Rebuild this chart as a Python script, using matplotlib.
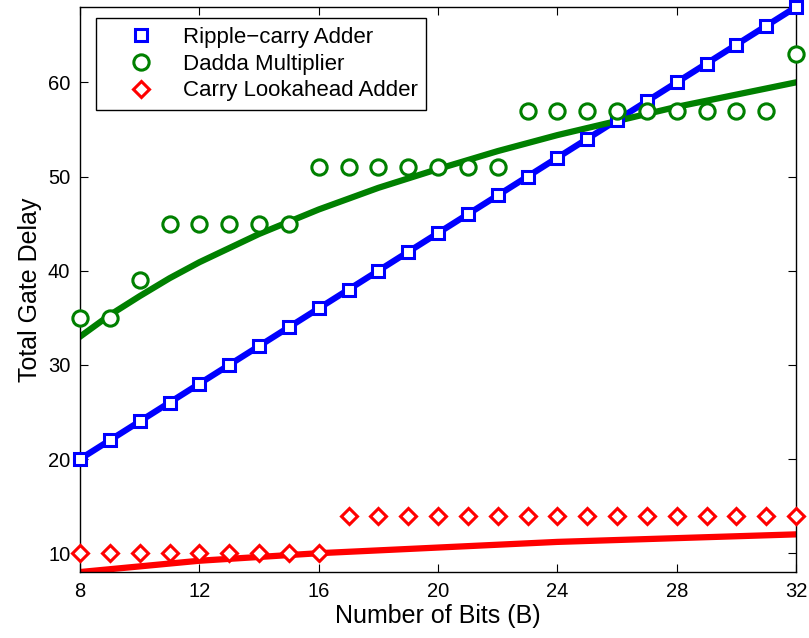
import matplotlib.pyplot as plt

plt.rcParams['font.family'] = ['Liberation Sans', 'DejaVu Sans']

# Data
bits = list(range(8, 33))
ripple = [20, 22, 24, 26, 28, 30, 32, 34, 36, 38, 40, 42, 44, 46, 48, 50,
          52, 54, 56, 58, 60, 62, 64, 66, 68]
dadda = [35, 35, 39, 45, 45, 45, 45, 45, 51, 51, 51, 51, 51, 51, 51,
         57, 57, 57, 57, 57, 57, 57, 57, 57, 63]
cla = [10] * 9 + [14] * 16

# Fitted trend curves
fit_bits = [8, 9, 10, 11, 12, 14, 16, 18, 20, 22, 24, 26, 28, 30, 32]
ripple_fit = [20, 22, 24, 26, 28, 32, 36, 40, 44, 48, 52, 56, 60, 64, 68]
dadda_fit = [33.0, 35.3, 37.3, 39.2, 40.9, 43.9, 46.5, 48.8, 50.8, 52.7,
             54.4, 55.9, 57.4, 58.7, 60.0]
cla_fit = [8.0, 8.3, 8.6, 8.9, 9.2, 9.6, 10.0, 10.3, 10.6, 10.9, 11.2,
           11.4, 11.6, 11.8, 12.0]

fig = plt.figure(figsize=(8.09, 6.38), dpi=100)
ax = fig.add_axes([0.099, 0.1034, 0.885, 0.8856])

ax.plot(fit_bits, ripple_fit, color="#0000ff", lw=4.5, zorder=2)
ax.plot(fit_bits, dadda_fit, color="#008000", lw=4.5, zorder=2)
ax.plot(fit_bits, cla_fit, color="#ff0000", lw=4.5, zorder=2)

common = dict(linestyle="none", markeredgewidth=2.2, markerfacecolor="white", clip_on=False, zorder=3)
ax.plot(bits, ripple, marker="s", markersize=9, markeredgecolor="#0000ff",
        label="Ripple\u2212carry Adder", **common)
ax.plot(bits, dadda, marker="o", markersize=11, markeredgecolor="#008000",
        label="Dadda Multiplier", **common)
ax.plot(bits, cla, marker="D", markersize=8, markeredgecolor="#ff0000",
        label="Carry Lookahead Adder", **common)

ax.set_xlim(8, 32)
ax.set_ylim(8, 68)
ax.set_xticks([8, 12, 16, 20, 24, 28, 32])
ax.set_yticks([10, 20, 30, 40, 50, 60])
ax.tick_params(direction="in", top=True, right=True, length=6, labelsize=14.5, pad=7)
for s in ax.spines.values():
    s.set_linewidth(1.0)

ax.set_xlabel("Number of Bits (B)", fontsize=18, labelpad=2)
ax.set_ylabel("Total Gate Delay", fontsize=18, labelpad=4)

leg = ax.legend(loc="upper left", bbox_to_anchor=(0.022, 0.98), borderaxespad=0,
                fontsize=16, fancybox=False, framealpha=1, edgecolor="black",
                handlelength=3.3, handletextpad=0.2, borderpad=0.4, labelspacing=0.25)
leg.get_frame().set_linewidth(1.0)

fig.savefig("out.png", dpi=100)
